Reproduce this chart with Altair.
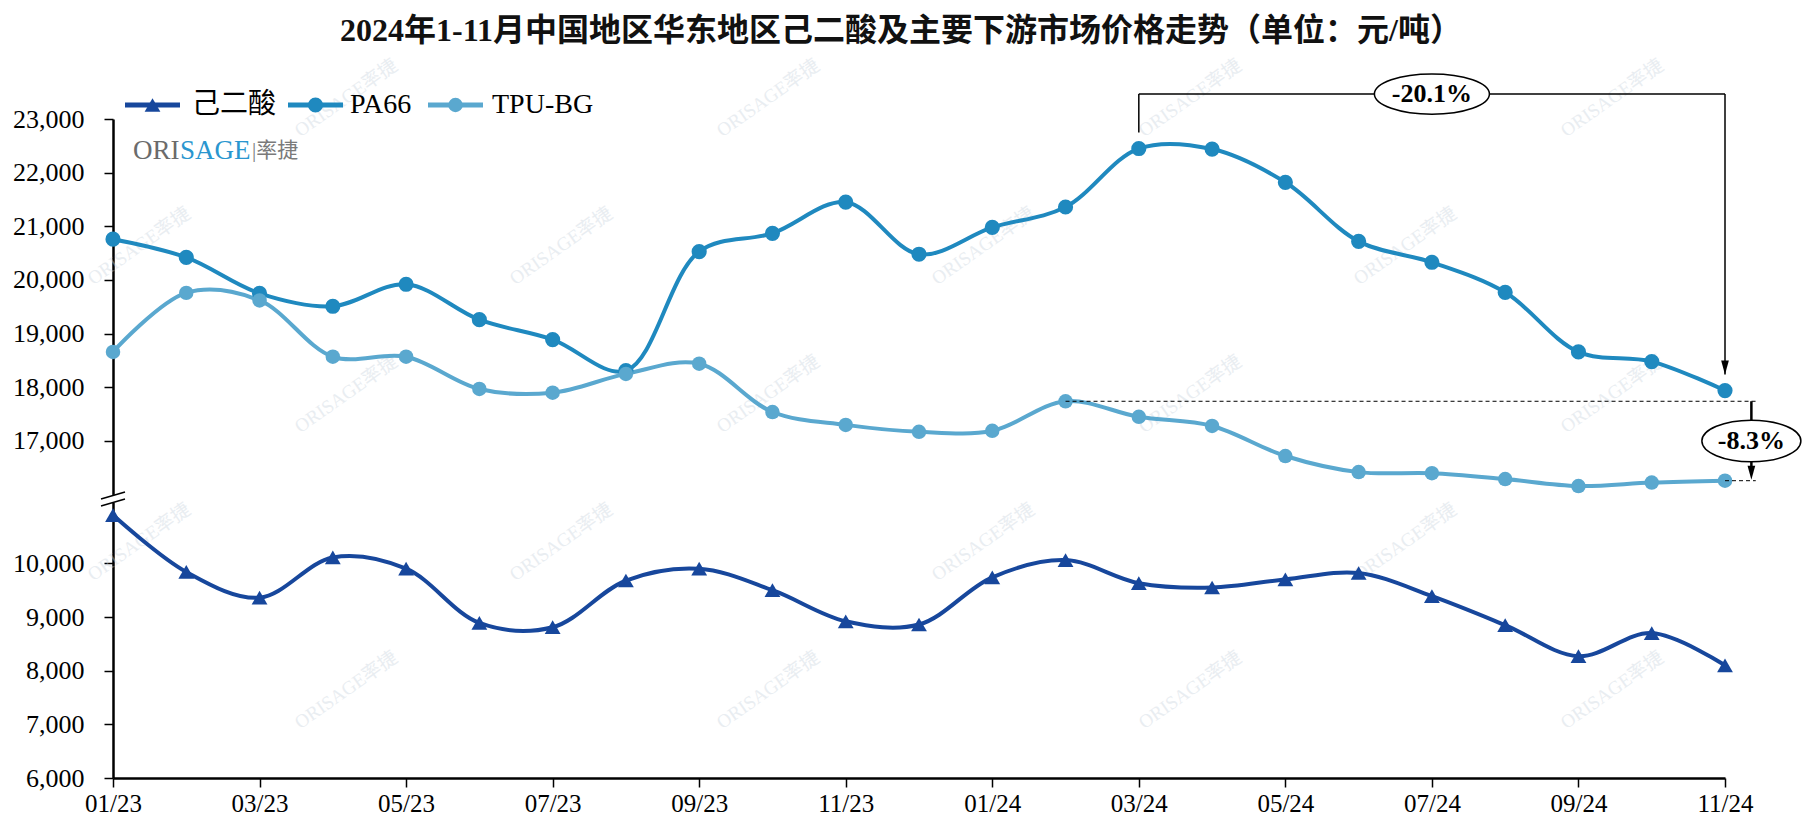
import altair as alt
import pandas as pd

# ---------------- data ----------------
months = ["01/23", "02/23", "03/23", "04/23", "05/23", "06/23", "07/23", "08/23",
          "09/23", "10/23", "11/23", "12/23", "01/24", "02/24", "03/24", "04/24",
          "05/24", "06/24", "07/24", "08/24", "09/24", "10/24", "11/24"]
tick_labels = ["01/23", "03/23", "05/23", "07/23", "09/23", "11/23",
               "01/24", "03/24", "05/24", "07/24", "09/24", "11/24"]
series_names = ["己二酸", "PA66", "TPU-BG"]
adipic = [10900, 9840, 9360, 10110, 9900, 8890, 8810, 9680, 9900, 9500, 8920, 8860,
          9740, 10060, 9630, 9550, 9700, 9820, 9390, 8850, 8270, 8700, 8100]
pa66 = [20760, 20420, 19750, 19510, 19920, 19260, 18890, 18310, 20530, 20870, 21450, 20480,
        20980, 21360, 22450, 22440, 21820, 20720, 20330, 19770, 18660, 18480, 17940]
tpu = [18660, 19760, 19620, 18570, 18570, 17970, 17900, 18250, 18440, 17540, 17300, 17170,
       17190, 17740, 17450, 17280, 16720, 16420, 16400, 16290, 16160, 16225, 16260]
y_top_ticks = [23000, 22000, 21000, 20000, 19000, 18000, 17000]
y_bottom_ticks = [10000, 9000, 8000, 7000, 6000]
pct_pa66 = "-20.1%"
pct_tpu = "-8.3%"

colors = ["#17479c", "#1f89bf", "#5aa8cf"]
shapes = ["triangle-up", "circle", "circle"]
marker_sizes = [250, 210, 210]

OFFSET = 4720  # broken-axis shift applied to the upper segment

rows = []
for name, vals, shift in [("己二酸", adipic, 0), ("PA66", pa66, OFFSET), ("TPU-BG", tpu, OFFSET)]:
    for i, v in enumerate(vals):
        rows.append({"i": i, "month": months[i], "series": name, "value": v, "t": v - shift})
df = pd.DataFrame(rows)

W, H = 1612, 659
PX_PER_UNIT = H / (18280 - 6000)
FONT = "Liberation Serif, Times New Roman, Noto Sans CJK SC"

xs = alt.Scale(domain=[0, 22], nice=False, zero=False)
ys = alt.Scale(domain=[6000, 18280], nice=False, zero=False)

label_arr = "[" + ",".join("'%s'" % s for s in tick_labels) + "]"
x_axis = alt.Axis(values=list(range(0, 23, 2)), labelExpr=label_arr + "[round(datum.value/2)]",
                  title=None, grid=False, domainColor="black", domainWidth=2.5,
                  tickColor="black", tickWidth=1.5, tickSize=9, labelPadding=4, labelFlush=False,
                  labelFont=FONT, labelFontSize=25, labelColor="black")
y_vals = [v - OFFSET for v in y_top_ticks] + y_bottom_ticks
y_axis = alt.Axis(values=y_vals,
                  labelExpr="datum.value > 11000 ? format(datum.value + %d, ',') : format(datum.value, ',')" % OFFSET,
                  title=None, grid=False, domainColor="black", domainWidth=2.5,
                  tickColor="black", tickWidth=1.5, tickSize=9, labelPadding=20, labelFlush=False,
                  labelFont=FONT, labelFontSize=26, labelColor="black")

color = alt.Color("series:N", scale=alt.Scale(domain=series_names, range=colors), legend=None)
shape = alt.Shape("series:N", scale=alt.Scale(domain=series_names, range=shapes), legend=None)
msize = alt.Size("series:N", scale=alt.Scale(domain=series_names, range=marker_sizes), legend=None)

base = alt.Chart(df)
lines = base.mark_line(interpolate="catmull-rom", strokeWidth=4, clip=False).encode(
    x=alt.X("i:Q", scale=xs, axis=x_axis),
    y=alt.Y("t:Q", scale=ys, axis=y_axis),
    color=color, detail="series:N",
    order=alt.Order("i:Q"))
points = base.mark_point(filled=True, opacity=1, clip=False).encode(
    x=alt.X("i:Q", scale=xs), y=alt.Y("t:Q", scale=ys), color=color, shape=shape, size=msize)

# ---------------- watermarks ----------------
wm = []
for k in range(6):
    yy = 98 + 148 * k
    x0 = 346 if k % 2 == 0 else 139
    for j in range(0, 4):
        xx = x0 + 422 * j
        if 60 <= xx <= 1760 and 40 <= yy <= 800:
            wm.append({"px": xx - 113, "py": yy - 119})
wm_df = pd.DataFrame(wm)
watermark = alt.Chart(wm_df).mark_text(text="ORISAGE率捷", angle=325, fontSize=19, font=FONT,
                                       color="#c9d4de", opacity=0.4, clip=False).encode(
    x=alt.X("px:Q", scale=None), y=alt.Y("py:Q", scale=None))

# ---------------- broken-axis mark ----------------
brk_c = 11200
u = 1 / PX_PER_UNIT
brk_cover = alt.Chart(pd.DataFrame({"a": [0]})).mark_rule(color="white", strokeWidth=6, clip=False).encode(
    x=alt.value(0), y=alt.datum(brk_c - 4 * u), y2=alt.datum(brk_c + 4 * u))
brk_df = pd.DataFrame({"y": [brk_c - 7 * u, brk_c + 0 * u], "y2": [brk_c + 0 * u, brk_c + 7 * u]})
brk_lines = alt.Chart(brk_df).mark_rule(color="black", strokeWidth=1.5, clip=False).encode(
    x=alt.value(-12), x2=alt.value(12),
    y=alt.Y("y:Q", scale=ys), y2="y2:Q")

# ---------------- annotation -20.1% ----------------
i_peak, i_last = 14, 22
top_pa = pa66[i_peak] - OFFSET
last_pa = pa66[i_last] - OFFSET
bracket_y = 18280 + 25 * u
ann_rules = pd.DataFrame({
    "x": [i_peak, i_peak, i_last],
    "x2": [i_last, i_peak, i_last],
    "y": [bracket_y, bracket_y, bracket_y],
    "y2": [bracket_y, top_pa + 16 * u, last_pa + 16 * u],
})
bracket = alt.Chart(ann_rules).mark_rule(color="black", strokeWidth=1.5, clip=False).encode(
    x=alt.X("x:Q", scale=xs), x2="x2:Q", y=alt.Y("y:Q", scale=ys), y2="y2:Q")
arrow_path = "M-0.55,-1 L0.55,-1 L0,1 Z"
arrow1 = alt.Chart(pd.DataFrame({"x": [i_last], "y": [last_pa + 16 * u]})).mark_point(
    shape=arrow_path, size=196, filled=True, color="black", opacity=1, clip=False).encode(
    x=alt.X("x:Q", scale=xs), y=alt.Y("y:Q", scale=ys), yOffset=alt.value(-7))
ell1 = alt.Chart(pd.DataFrame({"x": [18], "y": [bracket_y], "label": [pct_pa66]}))
ell1_shape = ell1.mark_point(shape="M-1,0 A1,0.35 0 1,1 1,0 A1,0.35 0 1,1 -1,0 Z", size=115 ** 2,
                             filled=True, fill="white", stroke="black", strokeWidth=1.5, opacity=1,
                             clip=False).encode(
    x=alt.X("x:Q", scale=xs), y=alt.Y("y:Q", scale=ys))
ell1_text = ell1.mark_text(fontSize=26, fontWeight="bold", font=FONT, color="black", clip=False).encode(
    x=alt.X("x:Q", scale=xs), y=alt.Y("y:Q", scale=ys), text="label:N")

# ---------------- annotation -8.3% ----------------
i_ref = 13
tpu_ref = tpu[i_ref] - OFFSET
tpu_last = tpu[i_last] - OFFSET
x_end = 22.42
x_arrow = 22.36
dash_df = pd.DataFrame({"x": [i_ref, i_last], "x2": [x_end, x_end], "y": [tpu_ref, tpu_last]})
dashes = alt.Chart(dash_df).mark_rule(color="black", strokeWidth=1, strokeDash=[4, 3], clip=False).encode(
    x=alt.X("x:Q", scale=xs), x2="x2:Q", y=alt.Y("y:Q", scale=ys))
arrow2_line = alt.Chart(pd.DataFrame({"x": [x_arrow], "y": [tpu_ref], "y2": [tpu_last + 12 * u]})).mark_rule(
    color="black", strokeWidth=2.5, clip=False).encode(
    x=alt.X("x:Q", scale=xs), y=alt.Y("y:Q", scale=ys), y2="y2:Q")
arrow2 = alt.Chart(pd.DataFrame({"x": [x_arrow], "y": [tpu_last + 1 * u]})).mark_point(
    shape=arrow_path, size=196, filled=True, color="black", opacity=1, clip=False).encode(
    x=alt.X("x:Q", scale=xs), y=alt.Y("y:Q", scale=ys), yOffset=alt.value(-7))
ell2 = alt.Chart(pd.DataFrame({"x": [x_arrow], "y": [(tpu_ref + tpu_last) / 2], "label": [pct_tpu]}))
ell2_shape = ell2.mark_point(shape="M-1,0 A1,0.42 0 1,1 1,0 A1,0.42 0 1,1 -1,0 Z", size=99 ** 2,
                             filled=True, fill="white", stroke="black", strokeWidth=1.5, opacity=1,
                             clip=False).encode(
    x=alt.X("x:Q", scale=xs), y=alt.Y("y:Q", scale=ys))
ell2_text = ell2.mark_text(fontSize=26, fontWeight="bold", font=FONT, color="black", clip=False).encode(
    x=alt.X("x:Q", scale=xs), y=alt.Y("y:Q", scale=ys), text="label:N")

# ---------------- legend (manual) ----------------
leg_df = pd.DataFrame({
    "series": series_names,
    "lx0": [12, 175, 315],
    "lx1": [67, 230, 370],
    "tx": [79, 237, 379],
    "py": [-14, -14, -14],
})
leg_df["mx"] = (leg_df["lx0"] + leg_df["lx1"]) / 2
leg_base = alt.Chart(leg_df)
leg_lines = leg_base.mark_rule(strokeWidth=5, clip=False).encode(
    x=alt.X("lx0:Q", scale=None), x2="lx1:Q", y=alt.Y("py:Q", scale=None), color=color)
leg_pts = leg_base.mark_point(filled=True, opacity=1, clip=False).encode(
    x=alt.X("mx:Q", scale=None), y=alt.Y("py:Q", scale=None), color=color, shape=shape, size=msize)
leg_text = leg_base.mark_text(align="left", baseline="middle", fontSize=28, font=FONT, color="black",
                              clip=False).encode(
    x=alt.X("tx:Q", scale=None), y=alt.Y("py:Q", scale=None), text="series:N")

# ---------------- logo & title ----------------
logo_df = pd.DataFrame({"t": ["ORI", "SAGE", "|率捷"], "px": [20, 67, 139], "py": [32, 32, 32],
                        "c": ["#6b6b6b", "#2a96cf", "#7a7a7a"], "fs": [27, 27, 21]})
logo = alt.Chart(logo_df).mark_text(align="left", baseline="middle", font=FONT, clip=False).encode(
    x=alt.X("px:Q", scale=None), y=alt.Y("py:Q", scale=None), text="t:N",
    color=alt.Color("c:N", scale=None), size=alt.Size("fs:Q", scale=None, legend=None))

title = alt.Chart(pd.DataFrame({"t": ["2024年1-11月中国地区华东地区己二酸及主要下游市场价格走势（单位：元/吨）"]})).mark_text(
    fontSize=32, fontWeight="bold", font=FONT, color="#111111", baseline="middle", clip=False).encode(
    x=alt.value(788), y=alt.value(-88), text="t:N")

chart = alt.layer(
    watermark, lines, points, brk_cover, brk_lines,
    dashes, bracket, arrow1, ell1_shape, ell1_text,
    arrow2_line, arrow2, ell2_shape, ell2_text,
    leg_lines, leg_pts, leg_text, logo, title
).properties(
    width=W, height=H,
    autosize=alt.AutoSizeParams(type="none"),
    padding={"left": 113, "top": 119, "right": 86, "bottom": 58},
    background="white",
).configure_view(stroke=None)

chart.save("out.html", embed_options={"renderer": "svg", "actions": False})
